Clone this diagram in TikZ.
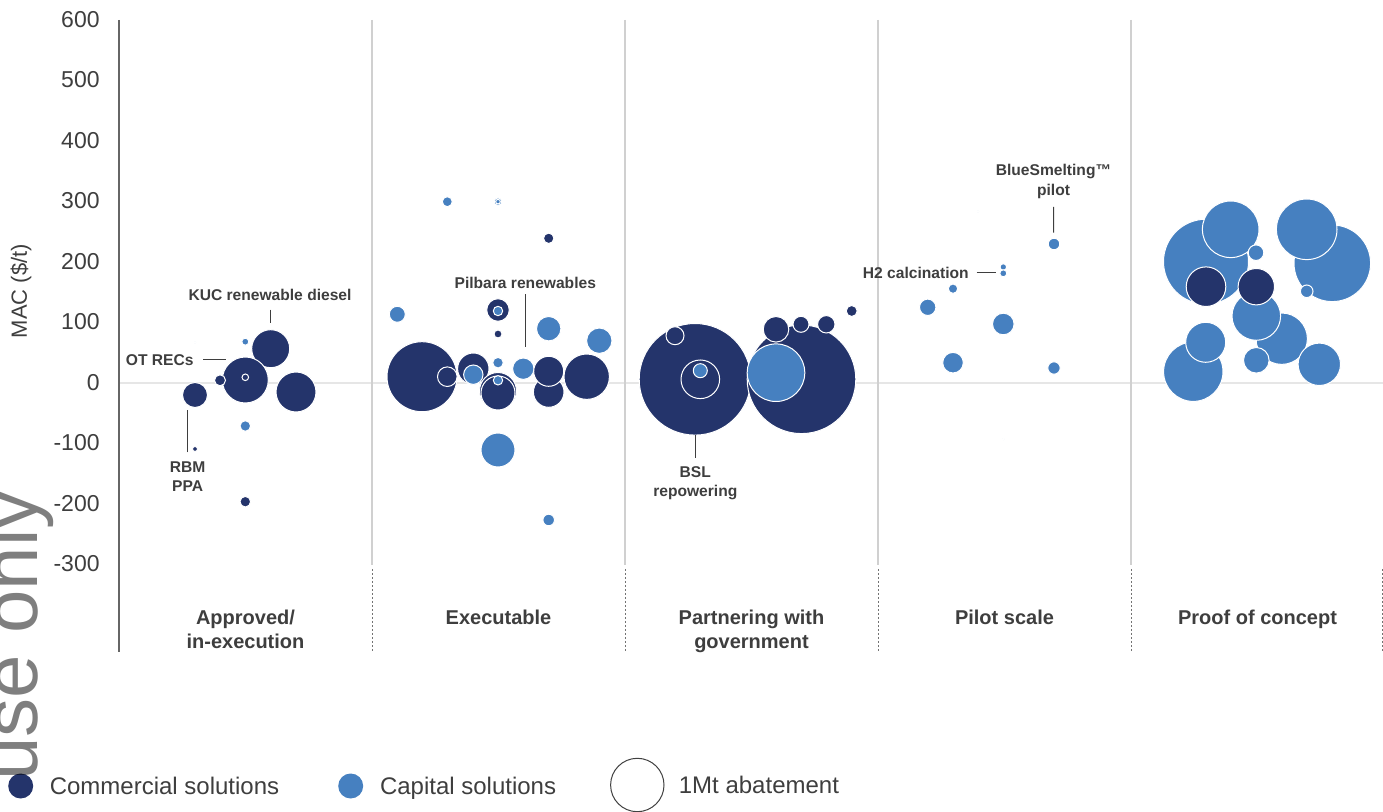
\documentclass[tikz,border=0pt]{standalone}
\usepackage{fontspec}
\setmainfont{Liberation Sans}
\usetikzlibrary{positioning}

\definecolor{comblue}{RGB}{36,52,107}
\definecolor{capblue}{RGB}{70,128,192}
\definecolor{inkgrey}{RGB}{62,62,62}
\definecolor{sepgrey}{RGB}{208,208,208}
\definecolor{gridgrey}{RGB}{230,230,230}

\def\bub[#1](#2)(#3){\draw[#1] (#2) circle (#3);}

\tikzset{
	combub/.style={fill=comblue, draw=white, line width=0.5pt},
	capbub/.style={fill=capblue, draw=white, line width=0.5pt},
	ticklbl/.style={anchor=east, inner sep=0pt, text=inkgrey, font=\fontsize{11.5}{13}\selectfont},
	grp/.style={align=center, inner sep=0pt, text=inkgrey, font=\bfseries\fontsize{10}{12}\selectfont},
	note/.style={align=center, inner sep=0pt, text=inkgrey, font=\bfseries\fontsize{7.8}{9.6}\selectfont},
	lead/.style={draw=inkgrey, line width=0.5pt},
	legtxt/.style={anchor=west, inner sep=0pt, text height=8.6pt, text depth=0pt, text=inkgrey, font=\fontsize{12}{14}\selectfont},
	sepline/.style={draw=sepgrey, line width=0.7pt},
	sepdash/.style={draw=black!55, line width=0.35pt, dash pattern=on 1pt off 1pt},
	zeroline/.style={draw=gridgrey, line width=0.6pt},
	axisline/.style={draw=black!60, line width=0.7pt}
}

\begin{document}
\begin{tikzpicture}[x=0.5pt, y=-0.5pt]
		%%%%% START %%%%%
		\useasboundingbox (0,0) rectangle (1383,812);
		
		\draw[zeroline] (119,383) -- (1383,383);
		\draw[sepline] (372,20) -- (372,565);
		\draw[sepline] (625,20) -- (625,565);
		\draw[sepline] (878,20) -- (878,565);
		\draw[sepline] (1131,20) -- (1131,565);
		\draw[sepdash] (372,569) -- (372,652);
		\draw[sepdash] (625,569) -- (625,652);
		\draw[sepdash] (878,569) -- (878,652);
		\draw[sepdash] (1131,569) -- (1131,652);
		\draw[sepdash] (1382,569) -- (1382,652);
		\draw[axisline] (119,20) -- (119,652);
		
		\node[ticklbl] (t600) at (100,20) {600};
		\node[ticklbl] (t500) at (100,80) {500};
		\node[ticklbl] (t400) at (100,141) {400};
		\node[ticklbl] (t300) at (100,201) {300};
		\node[ticklbl] (t200) at (100,262) {200};
		\node[ticklbl] (t100) at (100,322) {100};
		\node[ticklbl] (t0) at (100,383) {0};
		\node[ticklbl] (tm100) at (100,443) {-100};
		\node[ticklbl] (tm200) at (100,504) {-200};
		\node[ticklbl] (tm300) at (100,564) {-300};
		\node[rotate=90, inner sep=0pt, text=inkgrey, font=\fontsize{11}{13}\selectfont] (ylab) at (21,291) {MAC (\$/t)};
		
		\node[grp] (gApproved) at (245.5,629) {Approved/\\in-execution};
		\node[grp, anchor=base] (gExec) at (498.5,625) {Executable};
		\node[grp] (gGov) at (751.5,631) {Partnering with\\government};
		\node[grp, anchor=base] (gPilot) at (1004.5,625) {Pilot scale};
		\node[grp, anchor=base] (gProof) at (1257.5,625) {Proof of concept};
		
		% approved / in-execution
		\bub[capbub](195,342.7)(1)
		\bub[capbub](245.3,341.7)(3.5)
		\bub[combub](270.7,348.7)(19)
		\bub[combub](245.3,380)(23)
		\bub[combub](245.3,377.3)(3.3)
		\bub[combub](220,380.3)(5.5)
		\bub[combub](195,395)(12.5)
		\bub[combub](296,392)(20)
		\bub[capbub](245.3,426)(5.3)
		\bub[combub](195,449)(2.5)
		\bub[combub](245.3,501.7)(5.3)
		
		% executable
		\bub[capbub](447.3,201.7)(5)
		\bub[capbub](498,201.7)(3.8)
		\bub[capbub](498,201.7)(2.3)
		\bub[combub](548.7,238.3)(5.2)
		\bub[capbub](397.3,314.3)(8)
		\bub[combub](498,310)(11.3)
		\bub[capbub](498,311)(4.7)
		\bub[combub](498,334)(4)
		\bub[capbub](548.7,328.7)(12.2)
		\bub[capbub](599.3,340.7)(12.7)
		\bub[combub](422,376.7)(35)
		\bub[combub](447.3,376.7)(9.8)
		\bub[combub](473.3,368.7)(15.7)
		\bub[capbub](473.3,374.7)(9.7)
		\bub[capbub](498,362.7)(5.3)
		\bub[combub](498,391)(18.5)
		\bub[combub](498,393)(17)
		\bub[capbub](498,380.3)(4.7)
		\bub[capbub](523.3,368.7)(10.7)
		\bub[combub](548.7,392)(15.3)
		\bub[combub](548.7,371.3)(15)
		\bub[combub](586.7,376.7)(22.7)
		\bub[capbub](498,450)(17)
		\bub[capbub](548.7,520)(5.8)
		
		% partnering with government
		\bub[combub](695,379.3)(55.8)
		\bub[combub](675,335.7)(9)
		\bub[combub](700.3,379.3)(19.3)
		\bub[capbub](700.3,370.7)(7)
		\bub[combub](801.5,379.3)(54.3)
		\bub[capbub](776,372.7)(28.8)
		\bub[combub](776,329.3)(12.8)
		\bub[combub](801,324.3)(8)
		\bub[combub](826.3,324.3)(8.7)
		\bub[combub](851.7,311)(5.5)
		
		% pilot scale
		\bub[capbub](978,211.7)(1)
		\bub[capbub](1054,244)(5.8)
		\bub[capbub](1003.3,267)(3.3)
		\bub[capbub](1003.3,273.3)(3.5)
		\bub[capbub](953,288.7)(4.7)
		\bub[capbub](927.7,307.3)(8.2)
		\bub[capbub](1003.3,324)(10.8)
		\bub[capbub](953,362.7)(10.3)
		\bub[capbub](1054,368)(6.2)
		\bub[capbub](1003.3,439.3)(1)
		
		% proof of concept
		\bub[capbub](1206,261.7)(42.5)
		\bub[capbub](1230.7,229.3)(28.3)
		\bub[capbub](1256,252.7)(7.8)
		\bub[capbub](1332.3,263.3)(38.3)
		\bub[capbub](1306.7,229.3)(30.3)
		\bub[capbub](1306.7,291.3)(6.3)
		\bub[combub](1206,286.7)(19.8)
		\bub[capbub](1281.7,338.7)(25.7)
		\bub[capbub](1256.3,316)(24.3)
		\bub[combub](1256.3,286.7)(18.2)
		\bub[capbub](1193.3,371.7)(29.7)
		\bub[capbub](1205.7,342.3)(20)
		\bub[capbub](1256.3,360.3)(12.8)
		\bub[capbub](1319.3,364.3)(21.2)
		
		% call-outs
		\node[note] (kucLbl) at (270,295) {KUC renewable diesel};
		\coordinate (kucEnd) at (270,323);
		\draw[lead, shorten <=4.2pt] (kucLbl) -- (kucEnd);
		\node[note] (otLbl) at (159.7,360) {OT RECs};
		\coordinate (otEnd) at (226,360);
		\draw[lead, shorten <=4.6pt] (otLbl) -- (otEnd);
		\node[note] (rbmLbl) at (187.7,476.7) {RBM\\PPA};
		\coordinate (rbmEnd) at (187.7,410);
		\draw[lead, shorten <=4.5pt] (rbmLbl) -- (rbmEnd);
		\node[note] (pilLbl) at (525.3,282.7) {Pilbara renewables};
		\coordinate (pilEnd) at (525.3,347.3);
		\draw[lead, shorten <=2.8pt] (pilLbl) -- (pilEnd);
		\node[note] (bslLbl) at (695.3,483) {BSL\\repowering};
		\coordinate (bslEnd) at (695.3,435);
		\draw[lead, shorten <=4pt] (bslLbl) -- (bslEnd);
		\node[note] (h2Lbl) at (915.8,272.7) {H2 calcination};
		\coordinate (h2End) at (996,272.7);
		\draw[lead, shorten <=3.8pt] (h2Lbl) -- (h2End);
		\node[note] (bsmLbl) at (1053.5,181.5) {BlueSmelting™\\pilot};
		\coordinate (bsmEnd) at (1053.7,232.7);
		\draw[lead, shorten <=4pt] (bsmLbl) -- (bsmEnd);
		
		% legend
		\node[circle, fill=comblue, inner sep=0pt, minimum size=12.5pt] (legCom) at (20.7,786) {};
		\node[legtxt, right=7.9pt of legCom] (legComTxt) {Commercial solutions};
		\node[circle, fill=capblue, inner sep=0pt, minimum size=12.5pt] (legCap) at (350.7,786) {};
		\node[legtxt, right=8pt of legCap] (legCapTxt) {Capital solutions};
		\node[circle, draw=black!75, line width=0.5pt, inner sep=0pt, minimum size=26.7pt] (legMt) at (637.3,785) {};
		\node[legtxt, right=7pt of legMt] (legMtTxt) {1Mt abatement};
		
		\begin{scope}
			\clip (0,0) rectangle (1383,812);
			\node[rotate=90, anchor=base east, inner sep=0pt, text=black, text opacity=0.5, font=\fontsize{39}{39}\selectfont] (mark) at (37,490) {use only};
		\end{scope}
		%%%%% END %%%%%
\end{tikzpicture}
\end{document}
